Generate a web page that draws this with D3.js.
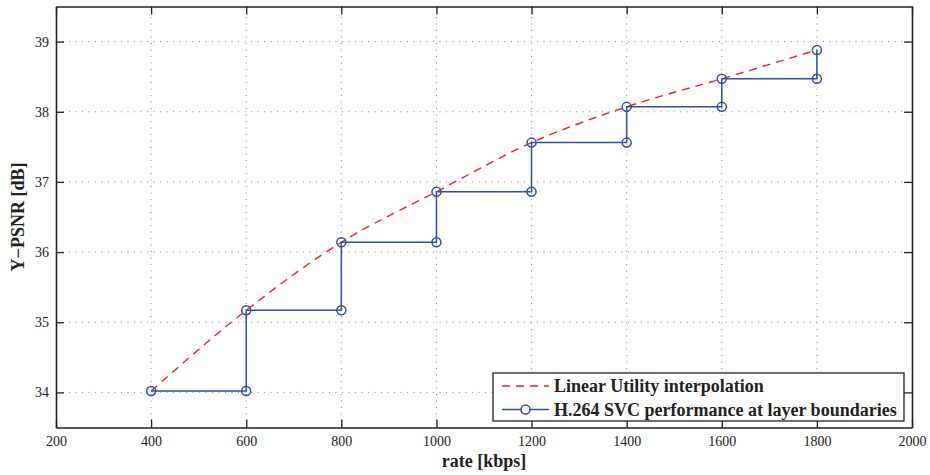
<!DOCTYPE html>
<html>
<head>
<meta charset="utf-8">
<script src="https://cdn.jsdelivr.net/npm/d3@7"></script>
<style>
  body { margin: 0; background: #fff; }
  svg { display: block; }
</style>
</head>
<body>
<div id="app"></div>
<script>
// rates at layer boundaries and measured PSNR
const rates = [400, 600, 800, 1000, 1200, 1400, 1600, 1800];
const psnr = [34.02, 35.17, 36.14, 36.86, 37.56, 38.07, 38.47, 38.88];
const xTicks = [200, 400, 600, 800, 1000, 1200, 1400, 1600, 1800, 2000];
const yTicks = [34, 35, 36, 37, 38, 39];
const legendLabels = ["Linear Utility interpolation", "H.264 SVC performance at layer boundaries"];

const width = 930, height = 475;
const margin = { top: 6.5, right: 18, bottom: 47.5, left: 56 };
const blue = "#2f4fa8", red = "#ff1f1f";

const svg = d3.select("#app").append("svg").attr("width", width).attr("height", height);

const x = d3.scaleLinear().domain([200, 2000]).range([margin.left, width - margin.right]);
const y = d3.scaleLinear().domain([33.5, 39.5]).range([height - margin.bottom, margin.top]);

const x0 = x.range()[0], x1 = x.range()[1], y0 = y.range()[0], y1 = y.range()[1];

// grid
const grid = svg.append("g").attr("stroke", "#8a8a8a").attr("stroke-width", 1)
  .attr("stroke-dasharray", "1,5.5");
grid.selectAll(".gx").data(xTicks.slice(1, -1)).enter().append("line")
  .attr("x1", (d) => x(d)).attr("x2", (d) => x(d)).attr("y1", y0).attr("y2", y1);
grid.selectAll(".gy").data(yTicks).enter().append("line")
  .attr("y1", (d) => y(d)).attr("y2", (d) => y(d)).attr("x1", x0).attr("x2", x1);

// axes with inward ticks, matlab style box
const font = "'Liberation Serif', 'DejaVu Serif', serif";
const tickLen = 8;
const styleAxis = (g) => {
  g.selectAll("text").style("font-family", font).style("font-size", "14px").attr("fill", "#222");
  g.selectAll("line").attr("stroke", "#222").attr("stroke-width", 1.3);
  g.select(".domain").attr("stroke", "#222").attr("stroke-width", 1.6);
};

svg.append("g").attr("transform", `translate(0,${y0})`)
  .call(d3.axisBottom(x).tickValues(xTicks).tickFormat(d3.format("d"))
    .tickSizeInner(-tickLen).tickSizeOuter(0).tickPadding(9))
  .call(styleAxis);
svg.append("g").attr("transform", `translate(0,${y1})`)
  .call(d3.axisTop(x).tickValues(xTicks).tickSizeInner(-tickLen).tickSizeOuter(0).tickFormat(""))
  .call(styleAxis);
svg.append("g").attr("transform", `translate(${x0},0)`)
  .call(d3.axisLeft(y).tickValues(yTicks).tickFormat(d3.format("d"))
    .tickSizeInner(-tickLen).tickSizeOuter(0).tickPadding(7))
  .call(styleAxis);
svg.append("g").attr("transform", `translate(${x1},0)`)
  .call(d3.axisRight(y).tickValues(yTicks).tickSizeInner(-tickLen).tickSizeOuter(0).tickFormat(""))
  .call(styleAxis);

// red dashed utility curve
const pts = rates.map((r, i) => [r, psnr[i]]);
svg.append("path")
  .datum(pts)
  .attr("fill", "none")
  .attr("stroke", red)
  .attr("stroke-width", 1.4)
  .attr("stroke-dasharray", "8,6")
  .attr("d", d3.line().x((d) => x(d[0])).y((d) => y(d[1])).curve(d3.curveMonotoneX));

// blue staircase: hold previous PSNR until next boundary, then jump
const steps = [];
pts.forEach((p, i) => {
  if (i > 0) steps.push([p[0], psnr[i - 1]]);
  steps.push(p);
});
svg.append("path")
  .datum(steps)
  .attr("fill", "none")
  .attr("stroke", blue)
  .attr("stroke-width", 1.5)
  .attr("d", d3.line().x((d) => x(d[0])).y((d) => y(d[1])));
svg.append("g").selectAll("circle").data(steps).enter().append("circle")
  .attr("cx", (d) => x(d[0])).attr("cy", (d) => y(d[1])).attr("r", 4.5)
  .attr("fill", "none").attr("stroke", blue).attr("stroke-width", 1.5);

// axis titles
svg.append("text").text("rate [kbps]")
  .attr("x", (x0 + x1) / 2).attr("y", 467)
  .attr("text-anchor", "middle")
  .style("font-family", font).style("font-size", "18px").style("font-weight", "bold").attr("fill", "#222");
svg.append("text").text("Y\u2212PSNR [dB]")
  .attr("transform", `translate(24,${(y0 + y1) / 2}) rotate(-90)`)
  .attr("text-anchor", "middle")
  .style("font-family", font).style("font-size", "18px").style("font-weight", "bold").attr("fill", "#222");

// legend
const lg = svg.append("g").attr("transform", "translate(493,373)");
lg.append("rect").attr("width", 411).attr("height", 48)
  .attr("fill", "#fff").attr("stroke", "#222").attr("stroke-width", 1.3);
const rows = [13, 36.5];
lg.append("line").attr("x1", 9).attr("x2", 56).attr("y1", rows[0]).attr("y2", rows[0])
  .attr("stroke", red).attr("stroke-width", 1.4).attr("stroke-dasharray", "8,6");
lg.append("line").attr("x1", 9).attr("x2", 56).attr("y1", rows[1]).attr("y2", rows[1])
  .attr("stroke", blue).attr("stroke-width", 1.5);
lg.append("circle").attr("cx", 32.5).attr("cy", rows[1]).attr("r", 4.5)
  .attr("fill", "#fff").attr("stroke", blue).attr("stroke-width", 1.5);
lg.selectAll(".lt").data(legendLabels).enter().append("text")
  .text((d) => d)
  .attr("x", 61).attr("y", (d, i) => rows[i]).attr("dy", "0.35em")
  .style("font-family", font).style("font-size", "18px").style("font-weight", "bold").attr("fill", "#222");
</script>
</body>
</html>
